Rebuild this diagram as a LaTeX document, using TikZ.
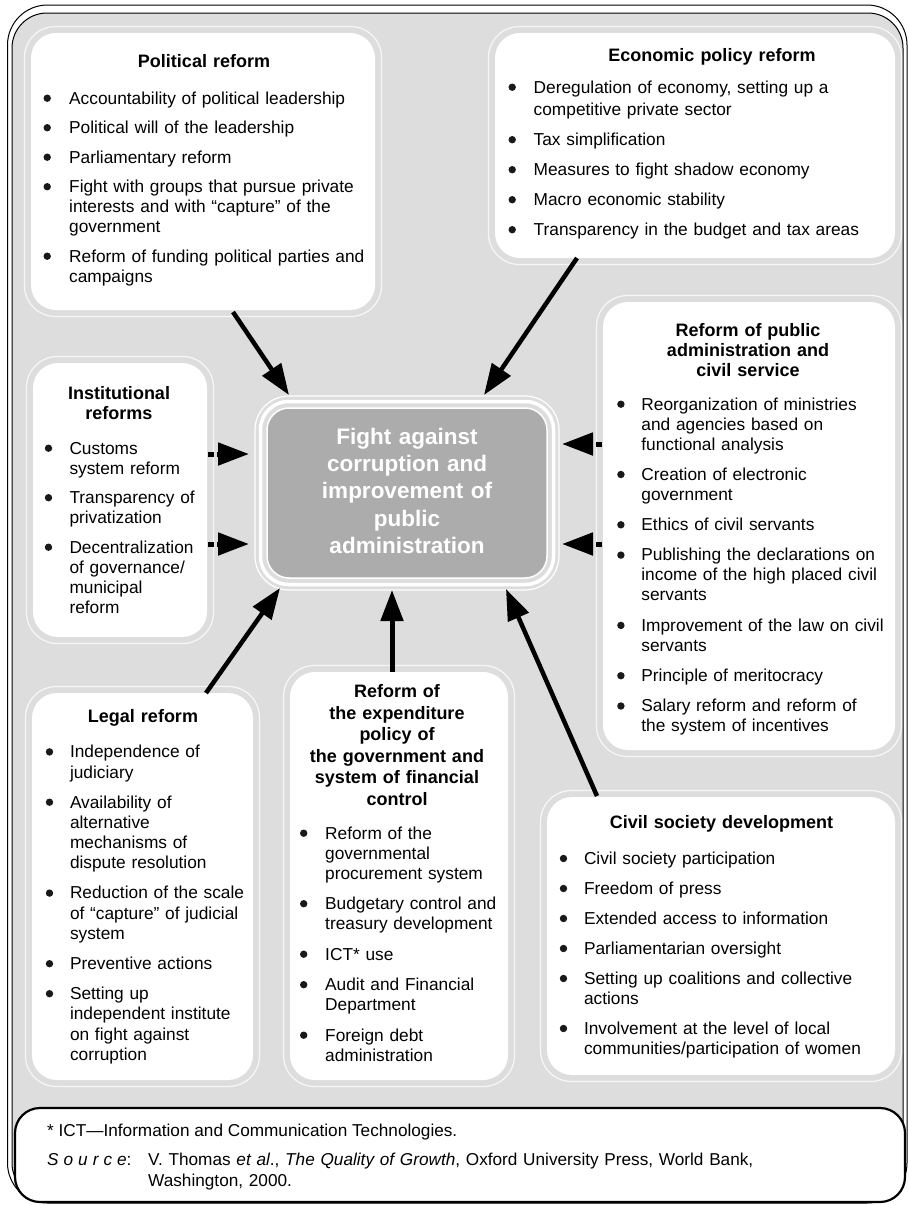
\documentclass[tikz,border=0pt]{standalone}
\usepackage{fontspec}
\setmainfont{Liberation Sans}
\usetikzlibrary{arrows.meta}
\definecolor{bggray}{RGB}{221,221,221}
\definecolor{cgray}{RGB}{172,172,172}
\definecolor{ringcol}{RGB}{246,246,246}
\definecolor{bulcol}{RGB}{25,25,25}
\newlength\itgap
\newlength\itind
\newcommand\bul{\tikz[baseline={(0pt,-5.8pt)}]\fill[bulcol] (0pt,0pt) circle[radius=3.7pt];}
\newcommand\itm[1]{\noindent\hangindent=\itind\hangafter=1\makebox[\itind][l]{\makebox[0pt][c]{\bul}}#1\par\vspace{\itgap}}
\newcommand\mkpanel[5]{%
 \node[ring, minimum width={#4-#2+13}, minimum height={#5-#3+13}] (#1ring) at ({(#2+#4)/2},{(#3+#5)/2}) {};
 \node[panel, minimum width={#4-#2}, minimum height={#5-#3}] (#1) at ({(#2+#4)/2},{(#3+#5)/2}) {};}
\tikzset{
 panel/.style={fill=white, rounded corners=25pt, inner sep=0pt, outer sep=0pt},
 ring/.style={draw=ringcol, line width=1.3pt, rounded corners=31pt, inner sep=0pt, outer sep=0pt},
 ttl/.style={font=\bfseries\fontsize{18}{20}\selectfont, text width=300pt, align=center, anchor=base, inner sep=0pt},
 lst/.style={font=\fontsize{17.3}{20}\selectfont, text width=390pt, anchor=base west, inner sep=0pt},
 fnt/.style={font=\fontsize{17.2}{21}\selectfont, anchor=base west, inner sep=0pt},
 arr/.style={line width=4.5pt, -{Triangle[length=31pt,width=22pt]}},
 darr/.style={arr, line width=5pt, dash pattern=on 6pt off 3pt},
}
\begin{document}
\begin{tikzpicture}[x=1pt,y=-1pt]
\useasboundingbox (0,0) rectangle (909,1205);
% frames
\draw[black, line width=1pt, rounded corners=40pt] (7.5,5) rectangle (907,1203);
\draw[black, line width=1pt, fill=bggray, rounded corners=35pt] (12,13) rectangle (903,1198);
\node[draw=black, line width=2.2pt, fill=white, rounded corners=25pt, minimum width=890, minimum height=94, inner sep=0pt] (fn) at (460,1155) {};
% panels
\mkpanel{pol}{31}{33}{375}{310}
\mkpanel{eco}{495}{33}{895}{258}
\mkpanel{pub}{603}{302}{895}{750}
\mkpanel{ins}{33}{363}{207}{637}
\mkpanel{leg}{32}{693}{253}{1080}
\mkpanel{exp}{290}{672}{508}{1080}
\mkpanel{civ}{547}{797}{895}{1075}
% centre
\node[draw=white, line width=1.2pt, rounded corners=34pt, minimum width=304, minimum height=194, inner sep=0pt] (ctrr2) at (407,493) {};
\node[draw=white, line width=3.5pt, rounded corners=28pt, minimum width=293, minimum height=183, inner sep=0pt] (ctrr1) at (407,493) {};
\node[fill=cgray, draw=white, line width=1.5pt, rounded corners=22pt, minimum width=280, minimum height=170, inner sep=0pt] (ctr) at (407,493) {};
\node[font=\bfseries\fontsize{22.5}{27.25}\selectfont, text=white, text width=280pt, align=center, anchor=base, inner sep=0pt] (ctrT) at (407,444.3) {Fight against\\corruption and\\improvement of\\public\\administration};
% titles
\node[ttl] (polT) at (204,67) {Political reform};
\node[ttl] (ecoT) at (712,61) {Economic policy reform};
\node[ttl] (pubT) at (748,336) {Reform of public\\administration and\\civil service};
\node[ttl] (insT) at (119,399) {Institutional\\reforms};
\node[ttl] (legT) at (143,722.7) {Legal reform};
\node[ttl, font=\bfseries\fontsize{18}{21.5}\selectfont] (expT) at (397,697.7) {Reform of\\the expenditure\\policy of\\the government and\\system of financial\\control};
\node[ttl] (civT) at (721.5,828.3) {Civil society development};
% lists
\node[lst] (polL) at (47,104) {\setlength\itgap{9.5pt}\setlength\itind{22pt}%
\itm{Accountability of political leadership}
\itm{Political will of the leadership}
\itm{Parliamentary reform}
\itm{Fight with groups that pursue private\newline interests and with “capture” of the\newline government}
\itm{Reform of funding political parties and\newline campaigns}};
\node[lst, font=\fontsize{17.3}{22.5}\selectfont] (ecoL) at (512,93) {\setlength\itgap{7.5pt}\setlength\itind{21.5pt}%
\itm{Deregulation of economy, setting up a\newline competitive private sector}
\itm{Tax simplification}
\itm{Measures to fight shadow economy}
\itm{Macro economic stability}
\itm{Transparency in the budget and tax areas}};
\node[lst] (pubL) at (620.7,410) {\setlength\itgap{10.3pt}\setlength\itind{20.5pt}%
\itm{Reorganization of ministries\newline and agencies based on\newline functional analysis}
\itm{Creation of electronic\newline government}
\itm{Ethics of civil servants}
\itm{Publishing the declarations on\newline income of the high placed civil\newline servants}
\itm{Improvement of the law on civil\newline servants}
\itm{Principle of meritocracy}
\itm{Salary reform and reform of\newline the system of incentives}};
\node[lst] (insL) at (48.3,454) {\setlength\itgap{9.5pt}\setlength\itind{21pt}%
\itm{Customs\newline system reform}
\itm{Transparency of\newline privatization}
\itm{Decentralization\newline of governance/\newline municipal\newline reform}};
\node[lst, font=\fontsize{17.3}{20.3}\selectfont] (legL) at (49.3,757.7) {\setlength\itgap{9.7pt}\setlength\itind{20.5pt}%
\itm{Independence of\newline judiciary}
\itm{Availability of\newline alternative\newline mechanisms of\newline dispute resolution}
\itm{Reduction of the scale\newline of “capture” of judicial\newline system}
\itm{Preventive actions}
\itm{Setting up\newline independent institute\newline on fight against\newline corruption}};
\node[lst] (expL) at (303.5,839) {\setlength\itgap{10.5pt}\setlength\itind{21.5pt}%
\itm{Reform of the\newline governmental\newline procurement system}
\itm{Budgetary control and\newline treasury development}
\itm{ICT* use}
\itm{Audit and Financial\newline Department}
\itm{Foreign debt\newline administration}};
\node[lst] (civL) at (563.3,864.3) {\setlength\itgap{10pt}\setlength\itind{20.5pt}%
\itm{Civil society participation}
\itm{Freedom of press}
\itm{Extended access to information}
\itm{Parliamentarian oversight}
\itm{Setting up coalitions and collective\newline actions}
\itm{Involvement at the level of local\newline communities/participation of women}};
% arrows
\coordinate (polS) at (233,312); \coordinate (polE) at (289,395);
\coordinate (ecoS) at (577,258); \coordinate (ecoE) at (484,395);
\coordinate (insSa) at (208,454); \coordinate (insEa) at (249,454);
\coordinate (insSb) at (208,544); \coordinate (insEb) at (249,544);
\coordinate (pubSa) at (602,444); \coordinate (pubEa) at (562,444);
\coordinate (pubSb) at (602,544); \coordinate (pubEb) at (562,544);
\coordinate (legS) at (206,693); \coordinate (legE) at (280,588);
\coordinate (expS) at (392,672); \coordinate (expE) at (392,590);
\coordinate (civS) at (597,796); \coordinate (civE) at (506,589);
\draw[arr] (polS) -- (polE);
\draw[arr] (ecoS) -- (ecoE);
\draw[darr] (insSa) -- (insEa);
\draw[darr] (insSb) -- (insEb);
\draw[darr] (pubSa) -- (pubEa);
\draw[darr] (pubSb) -- (pubEb);
\draw[arr] (legS) -- (legE);
\draw[arr, line width=5pt] (expS) -- (expE);
\draw[arr] (civS) -- (civE);
% footnote
\node[fnt] (fn1) at (47,1136) {* ICT—Information and Communication Technologies.};
\node[fnt] (fn2) at (47,1165) {\textit{S\kern5pt o\kern5pt u\kern5pt r\kern5pt c\kern5pt e}:};
\node[fnt, text width=740pt] (fn3) at (148,1165) {V. Thomas \textit{et al}., \textit{The Quality of Growth}, Oxford University Press, World Bank,\newline Washington, 2000.};
\end{tikzpicture}
\end{document}
